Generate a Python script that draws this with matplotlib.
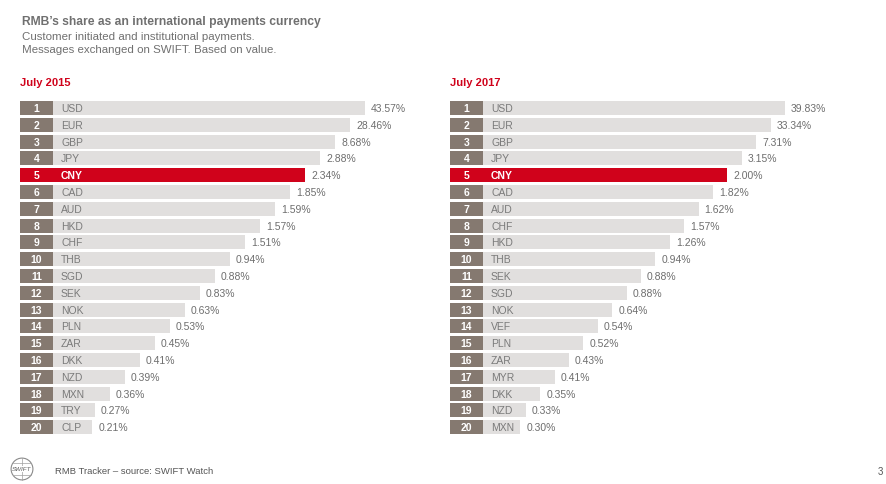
import matplotlib.pyplot as plt
from matplotlib.patches import Circle

plt.rcParams['font.family'] = ['Liberation Sans', 'DejaVu Sans']

# data
ranks = list(range(1, 21))
ccy_2015 = ["USD", "EUR", "GBP", "JPY", "CNY", "CAD", "AUD", "HKD", "CHF", "THB",
            "SGD", "SEK", "NOK", "PLN", "ZAR", "DKK", "NZD", "MXN", "TRY", "CLP"]
share_2015 = [43.57, 28.46, 8.68, 2.88, 2.34, 1.85, 1.59, 1.57, 1.51, 0.94,
              0.88, 0.83, 0.63, 0.53, 0.45, 0.41, 0.39, 0.36, 0.27, 0.21]
ccy_2017 = ["USD", "EUR", "GBP", "JPY", "CNY", "CAD", "AUD", "CHF", "HKD", "THB",
            "SEK", "SGD", "NOK", "VEF", "PLN", "ZAR", "MYR", "DKK", "NZD", "MXN"]
share_2017 = [39.83, 33.34, 7.31, 3.15, 2.00, 1.82, 1.62, 1.57, 1.26, 0.94,
              0.88, 0.88, 0.64, 0.54, 0.52, 0.43, 0.41, 0.35, 0.33, 0.30]

W, H = 887, 485
GREY_TXT = "#7a7a7a"
BOX = "#857970"
BAR = "#e1dfde"
RED = "#d0021b"

fig = plt.figure(figsize=(W / 100, H / 100), dpi=100)


def px_axes(x0, y_top, w, h):
    return fig.add_axes([x0 / W, 1 - (y_top + h) / H, w / W, h / H])


def panel(x0, title, names, values, first_len, step):
    fig.text(x0 / W, 1 - 83 / H, title, color=RED, fontsize=8, fontweight="bold",
             va="center", ha="left")
    ax = px_axes(x0, 100.6, 420, 336)
    ax.set_xlim(0, 420)
    ax.set_ylim(20.5, 0.5)
    ax.axis("off")
    # bar lengths follow rank, not value (as in the original layout)
    lengths = [max(first_len - step * (r - 1), 0.21 * first_len) for r in ranks]
    colors = [RED if n == "CNY" else BAR for n in names]
    ax.barh(ranks, lengths, height=0.83, color=colors, lw=0)
    boxes = [RED if n == "CNY" else BOX for n in names]
    ax.barh(ranks, 33, height=0.83, color=boxes, lw=0)
    for r, n, v, L in zip(ranks, names, values, lengths):
        cny = n == "CNY"
        ax.text(16.5, r, str(r), color="white", fontsize=7.5, fontweight="bold",
                ha="center", va="center")
        ax.text(41, r, n, color="white" if cny else GREY_TXT, fontsize=7.5,
                fontweight="bold" if cny else "normal", ha="left", va="center")
        ax.text(L + 6, r, f"{v:.2f}%", color="#6e6e6e", fontsize=7.5,
                ha="left", va="center")


fig.text(22 / W, 1 - 22 / H, "RMB\u2019s share as an international payments currency",
         color="#707070", fontsize=8.7, fontweight="bold", va="center")
fig.text(22 / W, 1 - 37 / H, "Customer initiated and institutional payments.",
         color="#707070", fontsize=8.25, va="center")
fig.text(22 / W, 1 - 50 / H, "Messages exchanged on SWIFT. Based on value.",
         color="#707070", fontsize=8.25, va="center")

panel(20, "July 2015", ccy_2015, share_2015, 345, 15)
panel(450, "July 2017", ccy_2017, share_2017, 335, 14.4)

# footer logo
lax = px_axes(10, 458, 24, 24)
lax.set_xlim(-1.1, 1.1)
lax.set_ylim(-1.1, 1.1)
lax.set_aspect("equal")
lax.axis("off")
lax.add_patch(Circle((0, 0), 1, fill=False, ec="#8a8a8a", lw=0.8))
for yy in (-0.55, 0.55):
    lax.plot([-0.83, 0.83], [yy, yy], color="#a0a0a0", lw=0.5)
lax.plot([0, 0], [-1, 1], color="#a0a0a0", lw=0.5)
lax.text(0, 0, "SWIFT", color="#5e5e5e", fontsize=4.5, style="italic",
         ha="center", va="center",
         bbox=dict(fc="white", ec="none", pad=0.3))

fig.text(55 / W, 1 - 472 / H, "RMB Tracker \u2013 source: SWIFT Watch",
         color="#555555", fontsize=6.8, va="center")
fig.text(883 / W, 1 - 472 / H, "3", color="#555555", fontsize=7, ha="right", va="center")

fig.savefig("out.png", dpi=100)
